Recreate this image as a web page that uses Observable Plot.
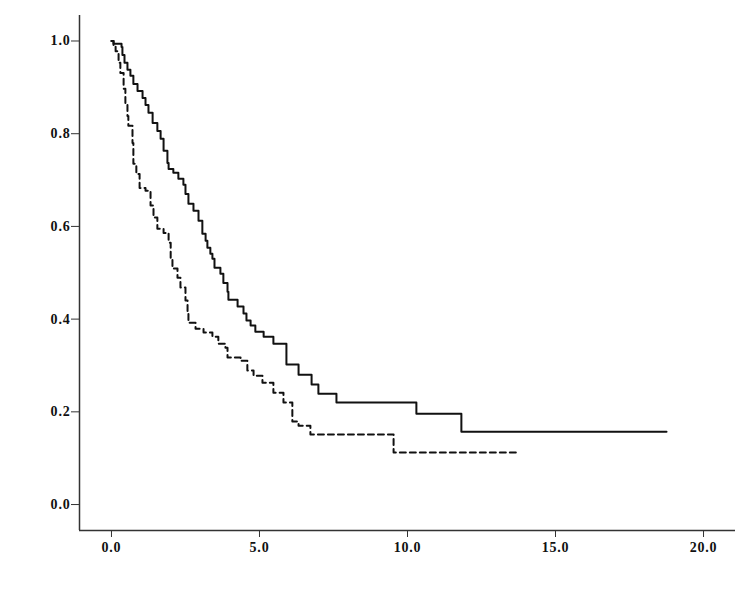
<!DOCTYPE html>
<html>
<head>
<meta charset="utf-8">
<script src="https://cdn.jsdelivr.net/npm/d3@7"></script>
<script src="https://cdn.jsdelivr.net/npm/@observablehq/plot@0.6"></script>
<style>
  html, body { margin: 0; padding: 0; background: #fff; }
  #chart text { letter-spacing: 0.8px; }
</style>
</head>
<body>
<div id="chart"></div>
<script>
// Solid curve (group 1): event times and survival after each step
const solidTimes = [0.00,0.07,0.34,0.37,0.44,0.54,0.64,0.74,0.88,1.05,1.15,1.25,1.39,1.55,1.66,1.76,1.89,1.93,2.09,2.26,2.43,2.50,2.60,2.77,2.94,3.07,3.18,3.24,3.34,3.41,3.48,3.68,3.78,3.92,3.95,4.26,4.46,4.56,4.70,4.86,5.14,5.47,5.91,6.32,6.76,6.99,7.60,10.30,11.82,18.75];
const solidSurv  = [1.000,0.994,0.987,0.970,0.953,0.938,0.925,0.907,0.892,0.877,0.862,0.845,0.823,0.806,0.789,0.763,0.737,0.724,0.716,0.703,0.690,0.670,0.649,0.634,0.612,0.584,0.569,0.554,0.541,0.530,0.511,0.498,0.478,0.459,0.442,0.427,0.412,0.397,0.386,0.373,0.362,0.347,0.302,0.280,0.259,0.239,0.220,0.196,0.157,0.157];

// Dashed curve (group 2)
const dashTimes = [0.00,0.07,0.14,0.24,0.30,0.41,0.47,0.54,0.57,0.71,0.74,0.84,0.95,1.15,1.32,1.42,1.55,1.76,1.93,2.00,2.06,2.23,2.33,2.50,2.57,2.60,2.84,3.11,3.41,3.61,3.85,3.92,4.36,4.59,4.80,5.10,5.47,5.81,6.11,6.32,6.72,9.53,13.72];
const dashSurv  = [1.000,0.991,0.978,0.953,0.931,0.897,0.866,0.838,0.817,0.780,0.735,0.713,0.683,0.677,0.645,0.619,0.595,0.586,0.565,0.532,0.509,0.489,0.468,0.440,0.414,0.392,0.379,0.371,0.362,0.347,0.338,0.317,0.310,0.289,0.278,0.263,0.241,0.220,0.179,0.170,0.151,0.112,0.112];

const xTicks = [0, 5, 10, 15, 20];
const yTicks = [0, 0.2, 0.4, 0.6, 0.8, 1.0];
const xDomain = [-1.08, 21.08];
const yDomain = [-0.056, 1.055];

const solid = solidTimes.map((t, i) => ({t, s: solidSurv[i]}));
const dashed = dashTimes.map((t, i) => ({t, s: dashSurv[i]}));

const chart = Plot.plot({
  width: 750,
  height: 602,
  marginTop: 15,
  marginBottom: 72,
  marginLeft: 79,
  marginRight: 15,
  style: {fontFamily: "'Liberation Serif', 'Times New Roman', serif", fontSize: "14px", fontWeight: "bold", color: "#111", background: "#fff"},
  x: {domain: xDomain},
  y: {domain: yDomain},
  marks: [
    Plot.ruleX([xDomain[0]], {stroke: "#333", strokeWidth: 1.5}),
    Plot.ruleY([yDomain[0]], {stroke: "#333", strokeWidth: 1.5}),
    Plot.axisX({ticks: xTicks, tickFormat: d3.format(".1f"), tickSize: 7, tickPadding: 5, label: null, stroke: "#333"}),
    Plot.axisY({ticks: yTicks, tickFormat: d3.format(".1f"), tickSize: 8, tickPadding: 1, label: null, stroke: "#333"}),
    Plot.line(dashed, {x: "t", y: "s", curve: "step-after", stroke: "#111", strokeWidth: 2, strokeDasharray: "6,4"}),
    Plot.line(solid, {x: "t", y: "s", curve: "step-after", stroke: "#111", strokeWidth: 2})
  ]
});
document.getElementById("chart").appendChild(chart);
</script>
</body>
</html>
